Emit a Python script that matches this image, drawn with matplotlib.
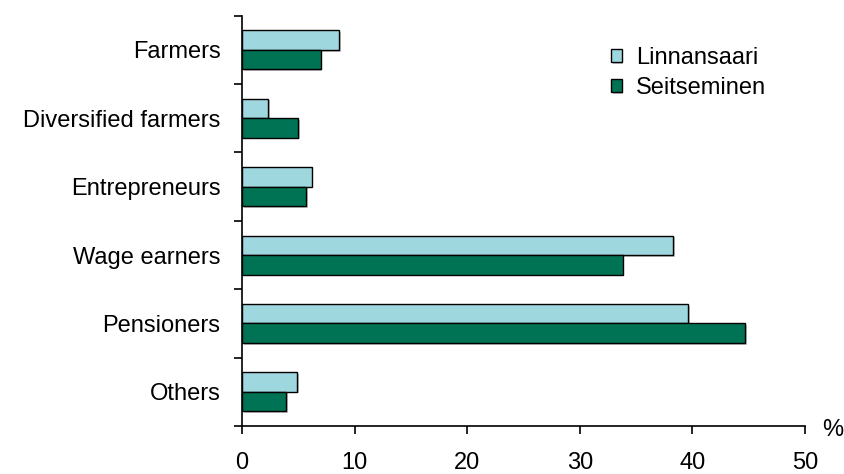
import numpy as np
import matplotlib
matplotlib.use('Agg')
import matplotlib.pyplot as plt
import matplotlib.patheffects as pe

categories = ['Farmers', 'Diversified farmers', 'Entrepreneurs',
              'Wage earners', 'Pensioners', 'Others']
linnansaari = [8.6, 2.3, 6.2, 38.3, 39.6, 4.9]
seitseminen = [7.0, 5.0, 5.7, 33.8, 44.7, 3.95]
series_names = ['Linnansaari', 'Seitseminen']
x_ticks = [0, 10, 20, 30, 40, 50]

plt.rcParams['font.family'] = ['Liberation Sans', 'DejaVu Sans']

fig = plt.figure(figsize=(8.45, 4.74), dpi=100)
ax = fig.add_axes([242 / 845, 1 - 426 / 474, (805 - 242) / 845, (426 - 15.7) / 474])

n = len(categories)
pos = np.arange(n)[::-1]
h = 0.285
shadow = [pe.SimplePatchShadow(offset=(1.2, -1.2), shadow_rgbFace='#999999', alpha=0.6),
          pe.Normal()]
b1 = ax.barh(pos + h / 2, linnansaari, height=h, color='#9FD7DF',
             edgecolor='black', linewidth=1.0, label=series_names[0])
b2 = ax.barh(pos - h / 2, seitseminen, height=h, color='#007355',
             edgecolor='black', linewidth=1.0, label=series_names[1])
for bar in list(b1) + list(b2):
    bar.set_path_effects(shadow)

ax.set_xlim(0, 50)
ax.set_ylim(-0.5, n - 0.5)
ax.set_xticks(x_ticks)
ax.set_xticklabels([str(t) for t in x_ticks], fontsize=17)
ax.set_yticks(pos)
ax.set_yticklabels(categories, fontsize=17)
ax.set_yticks(np.arange(n + 1) - 0.5, minor=True)
ax.tick_params(axis='y', which='major', length=0, pad=15.5)
ax.tick_params(axis='y', which='minor', length=5.5, width=1.2, direction='out')
ax.tick_params(axis='x', length=5.5, width=1.2, direction='out', pad=13.5)

for side in ['top', 'right']:
    ax.spines[side].set_visible(False)
for side in ['left', 'bottom']:
    ax.spines[side].set_linewidth(1.2)

fig.text(833 / 845, 1 - 430 / 474, '%', fontsize=17, ha='center', va='center')

ax.legend(loc='upper left', bbox_to_anchor=((611 - 242) / 563, 1 - (47 - 15.7) / 410.3),
          frameon=False, fontsize=17, handlelength=0.45, handleheight=0.5,
          handletextpad=0.6, labelspacing=0.33, borderpad=0, borderaxespad=0)

fig.savefig('out.png', dpi=100)
